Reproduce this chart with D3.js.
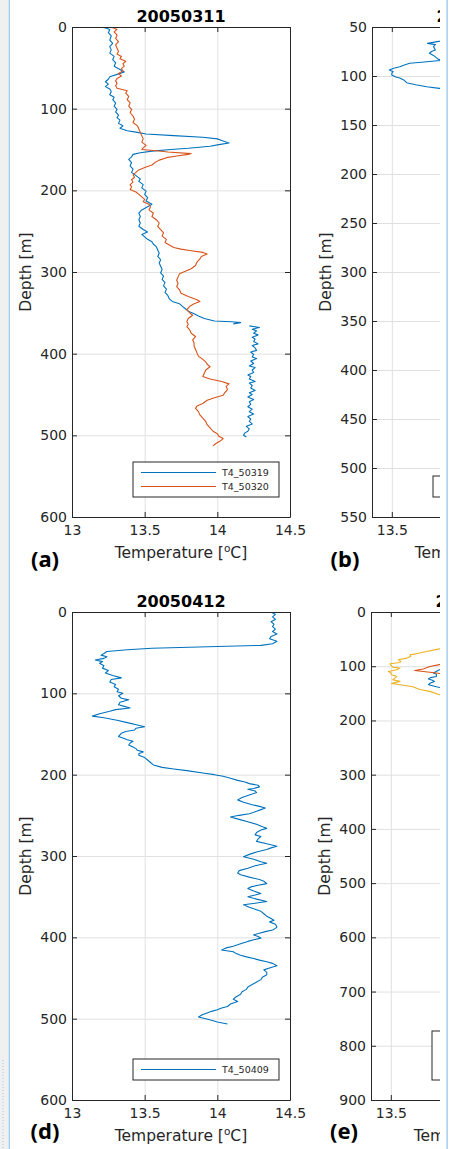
<!DOCTYPE html>
<html>
<head>
<meta charset="utf-8">
<script src="https://cdn.jsdelivr.net/npm/d3@7"></script>
<style>
  body { margin: 0; background: #fff; }
  svg text { font-family: "DejaVu Sans", sans-serif; }
</style>
</head>
<body>
<script>
// ---- data (depth [m], temperature [oC]) ----
var t4_50319 = [
  [0,13.21],[3,13.26],[7,13.25],[11,13.27],[16,13.26],[20,13.28],[24,13.26],[28,13.27],[32,13.26],[36,13.29],
  [40,13.28],[44,13.30],[48,13.29],[52,13.33],[55,13.36],[58,13.31],[61,13.26],[64,13.25],[67,13.23],[70,13.25],
  [73,13.23],[76,13.26],[79,13.27],[83,13.26],[86,13.29],[89,13.28],[93,13.30],[97,13.29],[101,13.31],[104,13.30],
  [108,13.32],[111,13.31],[114,13.33],[118,13.32],[121,13.35],[124,13.33],[127,13.38],[129,13.45],[131,13.51],[133,13.70],
  [135,13.90],[137,14.00],[139,14.03],[142,14.08],[144,14.01],[146,13.95],[148.5,13.80],[150,13.68],[152,13.55],[154,13.47],
  [156,13.42],[159,13.41],[162,13.39],[166,13.41],[170,13.40],[174,13.42],[178,13.41],[182,13.44],[186,13.47],[189,13.46],
  [193,13.49],[197,13.48],[201,13.51],[205,13.50],[209,13.52],[213,13.51],[217,13.55],[220,13.52],[224,13.48],[228,13.46],
  [232,13.47],[236,13.46],[240,13.47],[244,13.46],[248,13.49],[251,13.52],[254,13.48],[257,13.50],[260,13.52],[263,13.55],
  [266,13.56],[269,13.58],[273,13.59],[277,13.60],[281,13.59],[285,13.61],[289,13.60],[293,13.61],[297,13.62],[301,13.61],
  [305,13.63],[309,13.62],[313,13.64],[317,13.63],[321,13.65],[325,13.64],[329,13.66],[333,13.67],[336,13.69],[339,13.74],
  [342,13.76],[345,13.78],[348,13.80],[351,13.84],[354,13.87],[357,13.91],[360,13.98],[361,14.10],[362,14.16],[363.5,14.11],
  [365,NaN],
  [366,14.22],[368,14.29],[370,14.24],[372,14.27],[375,14.25],[377,14.28],[380,14.24],[382,14.26],[385,14.25],[388,14.28],
  [390,14.24],[393,14.26],[396,14.27],[398,14.23],[401,14.25],[404,14.24],[406,14.27],[409,14.23],[412,14.25],[415,14.22],
  [417,14.26],[420,14.24],[423,14.25],[426,14.21],[428,14.23],[431,14.22],[434,14.26],[436,14.22],[439,14.24],[442,14.23],
  [445,14.26],[448,14.22],[450,14.24],[453,14.21],[456,14.25],[459,14.22],[462,14.23],[465,14.21],[468,14.24],[471,14.22],
  [474,14.25],[477,14.21],[480,14.23],[483,14.22],[486,14.24],[489,14.20],[492,14.22],[495,14.21],[497,14.19],[500,14.18],
  [502,14.20]
];

var t4_50320 = [
  [0,13.27],[3,13.31],[6,13.29],[10,13.31],[14,13.30],[18,13.32],[22,13.30],[26,13.31],[30,13.32],[33,13.31],
  [36,13.34],[39,13.33],[42,13.37],[45,13.35],[48,13.36],[51,13.34],[54,13.35],[57,13.32],[60,13.34],[63,13.31],
  [66,13.30],[69,13.31],[72,13.30],[75,13.31],[78,13.38],[81,13.37],[85,13.39],[89,13.38],[93,13.40],[97,13.39],
  [101,13.41],[105,13.40],[109,13.42],[113,13.43],[117,13.42],[121,13.45],[125,13.46],[129,13.47],[133,13.48],[137,13.49],
  [141,13.48],[145,13.51],[148,13.49],[150,13.48],[151.5,13.58],[153,13.66],[155,13.82],[156,13.80],[158,13.72],[160,13.65],
  [163,13.60],[166,13.57],[169,13.55],[172,13.50],[175,13.46],[178,13.44],[181,13.42],[184,13.43],[187,13.41],[190,13.42],
  [193,13.40],[196,13.41],[199,13.40],[202,13.44],[205,13.46],[208,13.48],[211,13.50],[214,13.49],[217,13.53],[220,13.54],
  [224,13.53],[228,13.56],[232,13.55],[236,13.58],[240,13.60],[244,13.59],[248,13.61],[252,13.63],[256,13.62],[260,13.65],
  [264,13.64],[267,13.67],[270,13.70],[272,13.75],[274,13.82],[276,13.90],[278,13.93],[281,13.89],[284,13.88],[288,13.86],
  [292,13.85],[296,13.82],[299,13.78],[302,13.74],[306,13.73],[310,13.72],[314,13.73],[318,13.72],[322,13.74],[326,13.75],
  [330,13.80],[334,13.86],[336,13.88],[339,13.84],[342,13.81],[346,13.79],[350,13.81],[353,13.83],[357,13.80],[361,13.79],
  [364,13.80],[367,13.79],[371,13.81],[375,13.82],[379,13.85],[383,13.83],[387,13.84],[391,13.84],[395,13.85],[399,13.86],
  [403,13.87],[407,13.90],[410,13.92],[413,13.93],[416,13.95],[420,13.92],[424,13.91],[428,13.90],[431,13.95],[434,14.03],
  [437,14.08],[440,14.06],[444,14.07],[448,14.05],[451,14.04],[454,13.98],[457,13.93],[461,13.90],[464,13.86],[467,13.85],
  [471,13.87],[475,13.88],[479,13.90],[483,13.92],[487,13.93],[491,13.95],[495,13.97],[498,14.00],[501,14.01],[504,14.04],
  [507,14.02],[510,13.99],[513,13.97]
];

var t4_50409 = [
  [0,14.37],[3,14.40],[6,14.38],[9,14.40],[12,14.37],[15,14.39],[18,14.38],[21,14.40],[24,14.38],[27,14.41],
  [30,14.37],[33,14.36],[36,14.41],[39,14.38],[41,14.30],[42.5,14.00],[44.5,13.55],[46.5,13.38],[48.5,13.24],[51,13.22],
  [53,13.20],[55,13.24],[57,13.22],[59,13.16],[61,13.21],[63,13.19],[66,13.22],[69,13.21],[72,13.25],[75,13.23],
  [78,13.28],[81,13.34],[83,13.27],[86,13.26],[89,13.30],[92,13.29],[95,13.32],[98,13.31],[100,13.35],[103,13.32],
  [106,13.34],[108,13.39],[111,13.33],[114,13.32],[116,13.36],[118,13.40],[120,13.30],[122,13.26],[125,13.19],[128,13.14],
  [130,13.22],[133,13.31],[136,13.38],[139,13.45],[141,13.50],[143,13.44],[145,13.43],[147,13.37],[149,13.34],[151,13.33],
  [153,13.32],[155,13.35],[157,13.38],[159,13.42],[161,13.40],[163.5,13.39],[166,13.42],[168,13.44],[170,13.45],[172,13.49],
  [174,13.46],[176,13.46],[179,13.50],[182,13.52],[185,13.54],[188,13.56],[191,13.62],[193,13.70],[195,13.79],[198,13.90],
  [200,13.98],[202,14.04],[204.5,14.09],[207,14.14],[209,14.19],[211,14.22],[213,14.28],[215,14.29],[217,14.25],[218,14.21],
  [220,14.26],[222,14.27],[225,14.22],[228,14.17],[231,14.14],[234,14.18],[237,14.24],[239,14.29],[241,14.33],[243,14.30],
  [245,14.27],[248,14.22],[250,14.15],[252,14.09],[255,14.15],[258,14.21],[261,14.27],[264,14.31],[266,14.34],[268,14.30],
  [271,14.27],[274,14.26],[276,14.30],[279,14.28],[282,14.27],[285,14.34],[288,14.41],[290,14.37],[292,14.34],[295,14.27],
  [298,14.22],[301,14.18],[304,14.25],[307,14.30],[309,14.34],[312,14.26],[315,14.21],[318,14.15],[321,14.14],[323,14.16],
  [326,14.22],[329,14.29],[331,14.32],[334,14.34],[336,14.28],[338,14.23],[340,14.21],[343,14.25],[346,14.30],[348,14.26],
  [350,14.21],[353,14.27],[356,14.34],[358,14.26],[360,14.18],[363,14.22],[366,14.27],[368,14.30],[371,14.32],[374,14.34],
  [376,14.36],[379,14.39],[381,14.36],[384,14.40],[387,14.41],[389,14.40],[391,14.38],[393,14.33],[395,14.29],[397,14.25],
  [399,14.28],[401,14.30],[403,14.25],[405,14.21],[408,14.16],[411,14.11],[413,14.06],[415.6,14.03],[417.7,14.11],[420,14.13],
  [422,14.16],[424,14.20],[426,14.25],[428,14.29],[430,14.34],[432,14.38],[435,14.41],[437,14.37],[440,14.32],[443,14.34],
  [446,14.34],[449,14.31],[452,14.30],[455,14.27],[458,14.24],[461,14.21],[464,14.20],[467,14.17],[470,14.16],[473,14.13],
  [476,14.11],[479,14.14],[482,14.09],[485,14.07],[487,14.03],[489,14.00],[491,13.96],[493,13.93],[495,13.90],[498,13.87],
  [500,13.92],[502,13.96],[504,14.00],[506.5,14.07]
];

// panel (b): only the shallow part is visible in the crop
var t4_b = [
  [55,13.90],[63,13.78],[66.7,13.68],[68,13.72],[70,13.71],[73.5,13.72],[75,13.70],[76.8,13.69],[79,13.71],[83,13.735],
  [84,13.78],[84.4,13.73],[86,13.65],[87,13.59],[89,13.56],[90.5,13.54],[92,13.51],[93.9,13.487],[95.6,13.507],[97,13.50],
  [99,13.50],[101,13.52],[102,13.54],[104,13.56],[106.8,13.575],[109,13.62],[111,13.676],[112.6,13.74],[115,13.90]
];

// panel (e)
var t4_e1 = [
  [100,13.85],[106.5,13.745],[112.6,13.715],[115,13.73],[118.8,13.73],[121,13.70],[123.6,13.69],[126,13.71],[128,13.72],
  [131,13.70],[134,13.69],[136,13.71],[138,13.73],[143,13.80]
];
var t4_e2 = [
  [92,13.85],[97,13.745],[100.5,13.697],[103,13.68],[105,13.664],[107.8,13.62],[109.6,13.664],[112.6,13.73],[116,13.80]
];
var t4_e3 = [
  [60,13.90],[68,13.745],[73,13.68],[76,13.64],[79,13.597],[82,13.60],[85,13.58],[88,13.538],[91,13.55],[93,13.546],
  [95.5,13.496],[98,13.50],[101.6,13.51],[103.5,13.546],[106.5,13.53],[109.6,13.488],[112,13.50],[115.7,13.504],[118.8,13.53],
  [122,13.52],[125,13.51],[128,13.546],[132,13.504],[136,13.58],[138,13.61],[143,13.647],[146.4,13.697],[152.5,13.745],[158,13.85]
];

var titles = ['20050311', '20050325', '20050412', '20050426'];
var panel_labels = ['(a)', '(b)', '(d)', '(e)'];
var x_ticks = [13, 13.5, 14, 14.5];
var y_ticks_600 = [0, 100, 200, 300, 400, 500, 600];
var y_ticks_550 = [50, 100, 150, 200, 250, 300, 350, 400, 450, 500, 550];
var y_ticks_900 = [0, 100, 200, 300, 400, 500, 600, 700, 800, 900];

var colors = ['#0072BD', '#D95319', '#EDB120'];
var ink = '#262626';

var panels = [
  {left: 72, top: 27, width: 218, height: 490, xdom: [13, 14.5], ydom: [0, 600], yticks: y_ticks_600,
   title: titles[0], label: panel_labels[0], label_dy: 50,
   series: [{name: 'T4_50319', data: t4_50319}, {name: 'T4_50320', data: t4_50320}]},
  {left: 372, top: 27, width: 218, height: 490, xdom: [13.4, 14.5], ydom: [50, 550], yticks: y_ticks_550,
   title: titles[1], label: panel_labels[1], label_dy: 50,
   series: [{name: 'T4_50324', data: t4_b}]},
  {left: 72, top: 612, width: 218, height: 488, xdom: [13, 14.5], ydom: [0, 600], yticks: y_ticks_600,
   title: titles[2], label: panel_labels[2], label_dy: 39,
   series: [{name: 'T4_50409', data: t4_50409}]},
  {left: 371, top: 612, width: 218, height: 488, xdom: [13.4, 14.5], ydom: [0, 900], yticks: y_ticks_900,
   title: titles[3], label: panel_labels[3], label_dy: 39,
   series: [{name: 'T4_50419', data: t4_e1}, {name: 'T4_50420', data: t4_e2}, {name: 'T4_50421', data: t4_e3}]}
];

var W = 451, H = 1149;

var svg = d3.select('body').append('svg')
  .attr('width', W)
  .attr('height', H);

var defs = svg.append('defs');

// viewer frame: grey strip on the left
svg.append('rect').attr('x', 0).attr('y', 0).attr('width', 8).attr('height', H).attr('fill', '#f0f0f0');
svg.append('rect').attr('x', 8.6).attr('y', 0).attr('width', 1.2).attr('height', H).attr('fill', '#8cc2ea');
svg.append('line')
  .attr('x1', 3).attr('x2', 3).attr('y1', 1060).attr('y2', H)
  .attr('stroke', '#9ccbec').attr('stroke-dasharray', '1,2');
svg.append('rect').attr('x', 446.5).attr('y', 0).attr('width', 1.2).attr('height', H).attr('fill', '#8cc2ea');

// the figure is cropped at the right
defs.append('clipPath').attr('id', 'page_clip')
  .append('rect').attr('x', 0).attr('y', 0).attr('width', 440).attr('height', H);

var fig = svg.append('g').attr('clip-path', 'url(#page_clip)');

panels.forEach(function(p, i){
  var x = d3.scaleLinear().domain(p.xdom).range([p.left, p.left + p.width]);
  var y = d3.scaleLinear().domain(p.ydom).range([p.top, p.top + p.height]);
  var xt = x_ticks.filter(function(t){ return t >= p.xdom[0] && t <= p.xdom[1]; });
  var bottom = p.top + p.height;
  var right = p.left + p.width;

  var g = fig.append('g').attr('class', 'panel_' + i);

  // grid lines
  g.append('g')
    .attr('transform', 'translate(0,' + bottom + ')')
    .call(d3.axisBottom(x).tickValues(xt).tickSize(-p.height).tickFormat(''))
    .call(function(s){ s.select('.domain').remove(); })
    .selectAll('line').attr('stroke', '#e0e0e0');
  g.append('g')
    .attr('transform', 'translate(' + p.left + ',0)')
    .call(d3.axisLeft(y).tickValues(p.yticks).tickSize(-p.width).tickFormat(''))
    .call(function(s){ s.select('.domain').remove(); })
    .selectAll('line').attr('stroke', '#e0e0e0');

  // data lines, clipped to the axes box
  defs.append('clipPath').attr('id', 'plot_clip_' + i)
    .append('rect').attr('x', p.left).attr('y', p.top).attr('width', p.width).attr('height', p.height);

  var line = d3.line()
    .defined(function(d){ return !isNaN(d[1]); })
    .x(function(d){ return x(d[1]); })
    .y(function(d){ return y(d[0]); });

  g.append('g')
    .attr('clip-path', 'url(#plot_clip_' + i + ')')
    .selectAll('path')
    .data(p.series)
    .enter()
    .append('path')
    .attr('d', function(s){ return line(s.data); })
    .attr('fill', 'none')
    .attr('stroke', function(s, k){ return colors[k]; })
    .attr('stroke-width', 1.1)
    .attr('stroke-linejoin', 'round');

  // axes with inward ticks on all four sides
  function style_axis(s, show_labels){
    s.select('.domain').attr('stroke', ink);
    s.selectAll('.tick line').attr('stroke', ink);
    s.attr('font-family', null).attr('font-size', null);
    s.selectAll('.tick text')
      .attr('fill', ink)
      .style('font-size', '14px')
      .style('display', show_labels ? null : 'none');
  }

  g.append('g')
    .attr('transform', 'translate(0,' + bottom + ')')
    .call(d3.axisBottom(x).tickValues(xt).tickSizeInner(-5).tickSizeOuter(0).tickPadding(8)
      .tickFormat(function(d){ return d; }))
    .call(style_axis, true);
  g.append('g')
    .attr('transform', 'translate(0,' + p.top + ')')
    .call(d3.axisTop(x).tickValues(xt).tickSizeInner(-5).tickSizeOuter(0))
    .call(style_axis, false);
  g.append('g')
    .attr('transform', 'translate(' + p.left + ',0)')
    .call(d3.axisLeft(y).tickValues(p.yticks).tickSizeInner(-5).tickSizeOuter(0).tickPadding(5))
    .call(style_axis, true);
  g.append('g')
    .attr('transform', 'translate(' + right + ',0)')
    .call(d3.axisRight(y).tickValues(p.yticks).tickSizeInner(-5).tickSizeOuter(0))
    .call(style_axis, false);

  // title
  g.append('text')
    .attr('x', p.left + p.width / 2)
    .attr('y', p.top - 5.5)
    .attr('text-anchor', 'middle')
    .style('font-size', '16px')
    .style('font-weight', 'bold')
    .attr('fill', '#000')
    .text(p.title);

  // axis labels
  var xl = g.append('text')
    .attr('x', p.left + p.width / 2)
    .attr('y', bottom + 41)
    .attr('text-anchor', 'middle')
    .attr('fill', ink)
    .style('font-size', '15.5px');
  xl.append('tspan').text('Temperature [');
  xl.append('tspan').attr('dy', -6).style('font-size', '10.5px').text('o');
  xl.append('tspan').attr('dy', 6).text('C]');

  g.append('text')
    .attr('transform', 'translate(' + (p.left - 41) + ',' + (p.top + p.height / 2) + ') rotate(-90)')
    .attr('text-anchor', 'middle')
    .attr('fill', ink)
    .style('font-size', '15.5px')
    .text('Depth [m]');

  // panel letter
  g.append('text')
    .attr('x', p.left - 27)
    .attr('y', bottom + p.label_dy)
    .attr('text-anchor', 'middle')
    .attr('fill', '#000')
    .style('font-family', '"Noto Sans", sans-serif')
    .style('font-size', '22px')
    .style('font-weight', 'bold')
    .text(p.label);

  // legend box in the lower right corner
  var n = p.series.length;
  var lg_w = 146, lg_h = 14 * n + 7;
  var lg_x = right - 11 - lg_w;
  var lg_y = bottom - 20 - lg_h;
  var lg = g.append('g').attr('transform', 'translate(' + lg_x + ',' + lg_y + ')');
  lg.append('rect')
    .attr('width', lg_w)
    .attr('height', lg_h)
    .attr('fill', '#fff')
    .attr('stroke', ink)
    .attr('stroke-width', 1);
  var items = lg.selectAll('.item')
    .data(p.series)
    .enter()
    .append('g')
    .attr('class', 'item')
    .attr('transform', function(s, k){ return 'translate(0,' + (10.5 + 14 * k) + ')'; });
  items.append('line')
    .attr('x1', 8).attr('x2', 83)
    .attr('stroke', function(s, k){ return colors[k]; })
    .attr('stroke-width', 1.1);
  items.append('text')
    .attr('x', 89)
    .attr('dy', '0.35em')
    .attr('fill', ink)
    .style('font-size', '9.5px')
    .text(function(s){ return s.name; });
});
</script>
</body>
</html>
